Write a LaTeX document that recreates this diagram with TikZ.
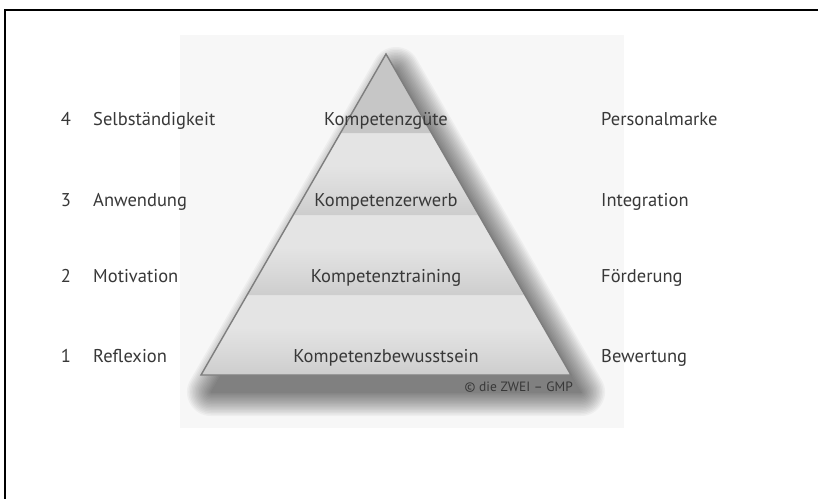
\documentclass[tikz,border=0pt]{standalone}
\usepackage{fontspec}
\setmainfont{PT Sans}
\definecolor{txt}{HTML}{383838}
\definecolor{panel}{HTML}{F7F7F7}
\definecolor{edge}{HTML}{7E7E7E}
\definecolor{bandhi}{HTML}{E4E4E4}
\definecolor{bandlo}{HTML}{CDCDCD}
\definecolor{tipgray}{HTML}{C6C6C6}
\pgfdeclareverticalshading{bandshade}{100bp}{%
  color(0bp)=(bandlo); color(25bp)=(bandlo); color(42bp)=(bandhi!60!bandlo);
  color(55bp)=(bandhi); color(100bp)=(bandhi)}
\tikzset{
  label/.style={font=\fontsize{18.5}{22}\selectfont, text=txt, inner sep=0pt},
  levelname/.style={label, anchor=base},
  leftword/.style={label, anchor=base west},
  rightword/.style={label, anchor=base west},
  levelnum/.style={label, anchor=base},
  band/.style={shading=bandshade},
  sh/.style={xshift=10pt, yshift=-17pt},
}
\begin{document}
\begin{tikzpicture}[x=1pt, y=-1pt]
  \useasboundingbox (0,0) rectangle (819,498);
  \fill[white] (0,0) rectangle (819,498);
  % frame: top and left rule
  \draw[line width=2pt, line cap=rect] (5,498) -- (5,10) -- (817,10);
  % light panel behind the pyramid
  \fill[panel] (180,35) rectangle (624,428);

  % pyramid corners
  \coordinate (apex) at (386,54);
  \coordinate (bl) at (201,375);
  \coordinate (br) at (571,375);

  % soft drop shadow: stacked, shrinking copies of the triangle
  \foreach \r in {48,45,...,0} {
    \begin{scope}[transparency group, opacity=0.035]
      \filldraw[black, line width=\r pt, line join=round]
        ([sh]apex) -- ([sh]br) -- ([sh]bl) -- cycle;
    \end{scope}
  }

  % bands, bottom to top
  \shade[band] (201,375) -- (571,375) -- (524.9,295) -- (247.1,295) -- cycle;
  \shade[band] (247.1,295) -- (524.9,295) -- (478.8,215) -- (293.2,215) -- cycle;
  \shade[band] (293.2,215) -- (478.8,215) -- (431.5,133) -- (340.5,133) -- cycle;
  \fill[tipgray] (340.5,133) -- (431.5,133) -- (apex) -- cycle;

  % outline
  \draw[edge, line width=1.4pt, line join=miter] (apex) -- (br) -- (bl) -- cycle;

  % level names inside the pyramid
  \node[levelname] (l4) at (386,125) {Kompetenzgüte};
  \node[levelname] (l3) at (386,206) {Kompetenzerwerb};
  \node[levelname] (l2) at (386,282) {Kompetenztraining};
  \node[levelname] (l1) at (386,362) {Kompetenzbewusstsein};

  % left column
  \node[levelnum] (n4) at (66,125) {4};
  \node[levelnum] (n3) at (66,206) {3};
  \node[levelnum] (n2) at (66,282) {2};
  \node[levelnum] (n1) at (66,362) {1};
  \node[leftword] (a4) at (93,125) {Selbständigkeit};
  \node[leftword] (a3) at (93,206) {Anwendung};
  \node[leftword] (a2) at (93,282) {Motivation};
  \node[leftword] (a1) at (93,362) {Reflexion};

  % right column
  \node[rightword] (b4) at (601,125) {Personalmarke};
  \node[rightword] (b3) at (601,206) {Integration};
  \node[rightword] (b2) at (601,282) {Förderung};
  \node[rightword] (b1) at (601,362) {Bewertung};

  % credit line
  \node[label, font=\fontsize{13.5}{16}\selectfont, anchor=base east] (credit)
    at (573,391) {© die ZWEI – GMP};
\end{tikzpicture}
\end{document}
